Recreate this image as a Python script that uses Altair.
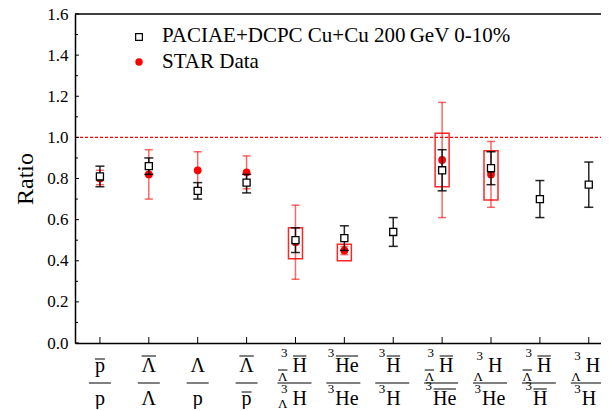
import altair as alt
import pandas as pd

# ---------------- data ----------------
categories = ["pbar/p", "Lbar/L", "L/p", "Lbar/pbar", "a3LH/3LH", "a3He/3He",
              "a3H/3H", "a3LH/a3He", "3LH/3He", "a3LH/a3H", "3LH/3H"]
pac_ratio = [0.81, 0.86, 0.74, 0.78, 0.50, 0.51, 0.54, 0.84, 0.85, 0.70, 0.77]
pac_low   = [0.76, 0.82, 0.70, 0.73, 0.44, 0.45, 0.47, 0.74, 0.77, 0.61, 0.66]
pac_high  = [0.86, 0.90, 0.78, 0.82, 0.56, 0.57, 0.61, 0.94, 0.93, 0.79, 0.88]

star_cat   = [0, 1, 2, 3, 4, 5, 7, 8]
star_ratio = [0.80, 0.82, 0.84, 0.83, 0.49, 0.45, 0.89, 0.82]
star_low   = [0.77, 0.70, 0.75, 0.75, 0.31, 0.43, 0.61, 0.66]
star_high  = [0.84, 0.94, 0.93, 0.91, 0.67, 0.47, 1.17, 0.98]

sys_cat  = [4, 5, 7, 8]
sys_low  = [0.41, 0.40, 0.76, 0.695]
sys_high = [0.56, 0.48, 1.02, 0.935]

y_major = [0.0, 0.2, 0.4, 0.6, 0.8, 1.0, 1.2, 1.4, 1.6]
y_minor = [0.1, 0.3, 0.5, 0.7, 0.9, 1.1, 1.3, 1.5]
unity = [1.0]

legend_labels = ["PACIAE+DCPC Cu+Cu 200\u2009GeV 0-10%", "STAR Data"]

# tick-label pieces (fractions)
num_base = ["p", "\u039b", "\u039b", "\u039b", "H", "He", "H", "H", "H", "H", "H"]
num_base_bar = [1, 1, 0, 1, 1, 1, 1, 1, 0, 1, 0]
num_sup = ["", "", "", "", "3", "3", "3", "3", "3", "3", "3"]
num_sub = ["", "", "", "", "\u039b", "", "", "\u039b", "\u039b", "\u039b", "\u039b"]
num_sub_bar = [0, 0, 0, 0, 1, 0, 0, 1, 0, 1, 0]
den_base = ["p", "\u039b", "p", "p", "H", "He", "H", "He", "He", "H", "H"]
den_base_bar = [0, 0, 0, 1, 0, 0, 0, 1, 0, 1, 0]
den_sup = ["", "", "", "", "3", "3", "3", "3", "3", "3", "3"]
den_sub = ["", "", "", "", "\u039b", "", "", "", "", "", ""]
den_sub_bar = [0] * 11

# ---------------- geometry / style ----------------
W, H = 526, 329
X_DOM = [-0.51, 10.25]
PX = W / (X_DOM[1] - X_DOM[0])
FONT = "Liberation Serif"
RED = "#ff0000"
GLYPH_W = {("p", 20): 10.0, ("\u039b", 20): 14.4, ("H", 20): 14.4, ("He", 20): 23.3,
           ("\u039b", 13): 9.4}


def d(px):
    return px / PX


xscale = alt.Scale(domain=X_DOM, nice=False, zero=False)
yscale = alt.Scale(domain=[0, 1.6], nice=False, zero=False)
xaxis = alt.Axis(title=None, labels=False, ticks=False, grid=False,
                 domainColor="black", domainWidth=1.5)
yaxis = alt.Axis(title="Ratio", values=y_major, format=".1f", ticks=False, grid=False,
                 domainColor="black", domainWidth=1.5, labelPadding=7,
                 labelFont=FONT, labelFontSize=17, labelColor="black",
                 titleFont=FONT, titleFontSize=24, titleFontWeight="normal",
                 titleColor="black", titlePadding=9)


def X(f):
    return alt.X(f, type="quantitative", scale=xscale, axis=xaxis)


def Y(f):
    return alt.Y(f, type="quantitative", scale=yscale, axis=yaxis)


pac = pd.DataFrame({"i": list(range(len(categories))), "r": pac_ratio,
                    "lo": pac_low, "hi": pac_high})
pac["c0"] = pac["i"] - d(4.5)
pac["c1"] = pac["i"] + d(4.5)
star = pd.DataFrame({"i": star_cat, "r": star_ratio, "lo": star_low, "hi": star_high})
star["c0"] = star["i"] - d(4)
star["c1"] = star["i"] + d(4)
sysd = pd.DataFrame({"i": sys_cat, "lo": sys_low, "hi": sys_high})
sysd["b0"] = sysd["i"] - d(7)
sysd["b1"] = sysd["i"] + d(7)

# ---------- layers ----------
frame_top = alt.Chart(pd.DataFrame({"v": [1.6]})).mark_rule(color="black", strokeWidth=1.5).encode(
    y=Y("v"), x=alt.value(0), x2=alt.value(W))
unity_line = alt.Chart(pd.DataFrame({"v": unity})).mark_rule(
    color=RED, strokeDash=[3, 2], strokeWidth=1.3).encode(y=Y("v"), x=alt.value(0), x2=alt.value(W))
ymaj = alt.Chart(pd.DataFrame({"v": y_major})).mark_rule(color="black", strokeWidth=1).encode(
    y=Y("v"), x=alt.value(0), x2=alt.value(4))
ymin = alt.Chart(pd.DataFrame({"v": y_minor})).mark_rule(color="black", strokeWidth=1).encode(
    y=Y("v"), x=alt.value(0), x2=alt.value(3))
xt = alt.Chart(pac).mark_rule(color="black", strokeWidth=1).encode(
    x=X("i"), y=alt.value(H), y2=alt.value(H - 6))

sys_box = alt.Chart(sysd).mark_rect(fill=None, fillOpacity=0, stroke=RED, strokeWidth=1.5,
                                    strokeOpacity=0.85).encode(
    x=X("b0"), x2="b1", y=Y("lo"), y2="hi")
star_bar = alt.Chart(star).mark_rule(color=RED, strokeWidth=1.5, opacity=0.6).encode(
    x=X("i"), y=Y("lo"), y2="hi")
star_cap_lo = alt.Chart(star).mark_rule(color=RED, strokeWidth=1.5, opacity=0.6).encode(
    x=X("c0"), x2="c1", y=Y("lo"))
star_cap_hi = alt.Chart(star).mark_rule(color=RED, strokeWidth=1.5, opacity=0.6).encode(
    x=X("c0"), x2="c1", y=Y("hi"))
star_pt = alt.Chart(star).mark_circle(color=RED, size=60, opacity=1).encode(x=X("i"), y=Y("r"))

pac_bar = alt.Chart(pac).mark_rule(color="black", strokeWidth=1.5, opacity=0.85).encode(
    x=X("i"), y=Y("lo"), y2="hi")
pac_cap_lo = alt.Chart(pac).mark_rule(color="black", strokeWidth=1.5, opacity=0.85).encode(
    x=X("c0"), x2="c1", y=Y("lo"))
pac_cap_hi = alt.Chart(pac).mark_rule(color="black", strokeWidth=1.5, opacity=0.85).encode(
    x=X("c0"), x2="c1", y=Y("hi"))
pac_pt = alt.Chart(pac).mark_point(shape="square", filled=True, fill="white", stroke="black",
                                   strokeWidth=1.3, size=50, opacity=1).encode(x=X("i"), y=Y("r"))

# legend
leg_sq = alt.Chart(pd.DataFrame({"k": [0]})).mark_point(
    shape="square", filled=True, fill="white", stroke="black", strokeWidth=1.2, size=45, opacity=1
).encode(x=alt.value(64), y=alt.value(23))
leg_ci = alt.Chart(pd.DataFrame({"k": [0]})).mark_circle(color=RED, size=55, opacity=1).encode(
    x=alt.value(64), y=alt.value(48))
leg_t1 = alt.Chart(pd.DataFrame({"t": [legend_labels[0]]})).mark_text(
    align="left", baseline="alphabetic", font=FONT, fontSize=21, color="black").encode(
    text="t:N", x=alt.value(87), y=alt.value(28))
leg_t2 = alt.Chart(pd.DataFrame({"t": [legend_labels[1]]})).mark_text(
    align="left", baseline="alphabetic", font=FONT, fontSize=21, color="black").encode(
    text="t:N", x=alt.value(87), y=alt.value(54))

# ---------- tick label pieces ----------
NUM_Y, DEN_Y, BAR_Y = 358, 391, 369
pieces, lines = [], []
for i in range(len(categories)):
    has_sup = bool(num_sup[i])
    if has_sup:
        lines.append({"x0": i + d(-18), "x1": i + d(16), "y": BAR_Y})
    else:
        lines.append({"x0": i + d(-11), "x1": i + d(11), "y": BAR_Y})
    for row, base, bbar, sup, sub, sbar, by, subdy in [
        ("n", num_base[i], num_base_bar[i], num_sup[i], num_sub[i], num_sub_bar[i], NUM_Y, 9),
        ("d", den_base[i], den_base_bar[i], den_sup[i], den_sub[i], den_sub_bar[i], DEN_Y, 3),
    ]:
        w = GLYPH_W[(base, 20)]
        cap_off = 13 if base == "p" else 16
        if not sup:
            pieces.append({"x": i, "y": by, "t": base, "fs": 20, "al": "center"})
            if bbar:
                lines.append({"x0": i - d(w / 2), "x1": i + d(w / 2), "y": by - cap_off})
            continue
        if sub:
            left = i + d(-3)
            anchor = left - d(5)
        else:
            left = i + d(-9 if base == "He" else -7)
            anchor = left - d(1)
        pieces.append({"x": left, "y": by, "t": base, "fs": 20, "al": "left"})
        if bbar:
            lines.append({"x0": left + d(0.5), "x1": left + d(w - 0.5), "y": by - cap_off})
        pieces.append({"x": anchor, "y": by - (15 if bbar else 12), "t": sup, "fs": 13, "al": "right"})
        if sub:
            sy = by + subdy
            pieces.append({"x": anchor, "y": sy, "t": sub, "fs": 13, "al": "right"})
            if sbar:
                sw = GLYPH_W[(sub, 13)]
                lines.append({"x0": anchor - d(sw), "x1": anchor, "y": sy - 11})

pieces = pd.DataFrame(pieces)
lines = pd.DataFrame(lines)

label_layers = []
for al in ["center", "left", "right"]:
    sub_df = pieces[pieces["al"] == al]
    label_layers.append(
        alt.Chart(sub_df).mark_text(align=al, baseline="alphabetic", font=FONT, color="black").encode(
            x=X("x"), y=alt.Y("y:Q", scale=None), text="t:N", size=alt.Size("fs:Q", scale=None)))
label_lines = alt.Chart(lines).mark_rule(color="black", strokeWidth=1).encode(
    x=X("x0"), x2="x1", y=alt.Y("y:Q", scale=None))

chart = alt.layer(
    frame_top, unity_line, ymaj, ymin, xt,
    sys_box, star_bar, star_cap_lo, star_cap_hi, star_pt,
    pac_bar, pac_cap_lo, pac_cap_hi, pac_pt,
    leg_sq, leg_ci, leg_t1, leg_t2,
    *label_layers, label_lines,
).properties(
    width=W, height=H,
    autosize=alt.AutoSizeParams(type="none"),
    padding={"left": 67, "top": 6, "right": 0, "bottom": 66},
).configure_view(stroke=None).configure_axisY(orient="left")

chart.save("out.html", embed_options={"renderer": "svg", "actions": False})
